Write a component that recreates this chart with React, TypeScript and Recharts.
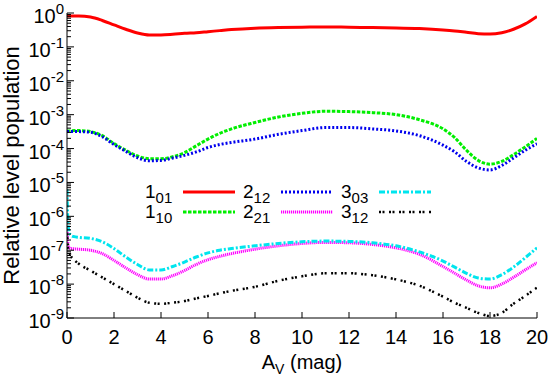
import React from 'react';
import { LineChart, Line, XAxis, YAxis, Legend } from 'recharts';

// A_V (mag) sample positions
const AV = [0, 0.05, 0.15, 0.3, 0.5, 1, 1.5, 2, 2.5, 3, 3.5, 4, 4.5, 5, 5.5, 6, 6.5, 7, 8, 9, 10, 11, 12, 13, 14, 15, 16, 16.5, 17, 17.5, 18, 18.5, 19, 19.5, 20];

// log10 of relative level population
const LOG_1_01 = [-0.09, -0.09, -0.09, -0.09, -0.09, -0.12, -0.22, -0.35, -0.48, -0.59, -0.65, -0.65, -0.63, -0.6, -0.58, -0.55, -0.52, -0.49, -0.45, -0.43, -0.42, -0.41, -0.42, -0.43, -0.44, -0.46, -0.5, -0.53, -0.57, -0.61, -0.62, -0.58, -0.48, -0.32, -0.1];
const LOG_1_10 = [-3.48, -3.48, -3.48, -3.47, -3.47, -3.5, -3.62, -3.85, -4.05, -4.22, -4.3, -4.3, -4.24, -4.12, -3.92, -3.72, -3.55, -3.42, -3.23, -3.07, -2.96, -2.9, -2.91, -2.94, -3.0, -3.15, -3.42, -3.68, -4.05, -4.35, -4.46, -4.38, -4.18, -3.95, -3.7];
const LOG_2_12 = [-3.5, -3.5, -3.5, -3.5, -3.5, -3.52, -3.65, -3.88, -4.08, -4.27, -4.36, -4.35, -4.28, -4.2, -4.1, -3.97, -3.88, -3.82, -3.72, -3.58, -3.47, -3.38, -3.38, -3.42, -3.48, -3.62, -3.9, -4.1, -4.38, -4.57, -4.63, -4.5, -4.28, -4.05, -3.86];
const LOG_2_21 = [-6.4, -6.85, -6.95, -6.96, -6.97, -7.0, -7.1, -7.3, -7.52, -7.72, -7.85, -7.85, -7.75, -7.6, -7.42, -7.28, -7.18, -7.1, -6.97, -6.87, -6.8, -6.77, -6.78, -6.83, -6.93, -7.12, -7.48, -7.68, -7.88, -8.05, -8.11, -8.0, -7.8, -7.58, -7.37];
const LOG_3_03 = [-5.2, -6.3, -6.55, -6.6, -6.62, -6.65, -6.75, -6.95, -7.2, -7.42, -7.58, -7.58, -7.48, -7.35, -7.2, -7.08, -7.0, -6.95, -6.87, -6.8, -6.75, -6.73, -6.74, -6.78, -6.87, -7.05, -7.32, -7.5, -7.68, -7.82, -7.85, -7.72, -7.5, -7.22, -6.93];
const LOG_3_12 = [-6.5, -6.95, -7.15, -7.28, -7.4, -7.6, -7.8, -8.0, -8.2, -8.4, -8.55, -8.58, -8.55, -8.5, -8.42, -8.35, -8.27, -8.2, -8.08, -7.9, -7.77, -7.68, -7.68, -7.74, -7.86, -8.05, -8.37, -8.55, -8.7, -8.85, -8.94, -8.85, -8.58, -8.35, -8.1];

const X_TICKS = [0, 2, 4, 6, 8, 10, 12, 14, 16, 18, 20];
const Y_DECADES = [-9, -8, -7, -6, -5, -4, -3, -2, -1, 0];

const FONT = 'Liberation Sans, Arial, Helvetica, sans-serif';

type S = { key: string; main: string; sub: string; color: string; dash?: string; width: number; data: number[] };
const SERIES: S[] = [
  { key: 's101', main: '1', sub: '01', color: '#ff0000', width: 3, data: LOG_1_01 },
  { key: 's110', main: '1', sub: '10', color: '#00ee00', dash: '3.5 1.5', width: 3, data: LOG_1_10 },
  { key: 's212', main: '2', sub: '12', color: '#0000ee', dash: '2 2', width: 3, data: LOG_2_12 },
  { key: 's221', main: '2', sub: '21', color: '#ff00ff', dash: '1.2 0.8', width: 3, data: LOG_2_21 },
  { key: 's303', main: '3', sub: '03', color: '#00e5ee', dash: '6 2 2 2', width: 3, data: LOG_3_03 },
  { key: 's312', main: '3', sub: '12', color: '#000000', dash: '2 1.5 2 4.5', width: 2.5, data: LOG_3_12 },
];

const rows = AV.map((av, i) => {
  const r: any = { av };
  SERIES.forEach((s) => { r[s.key] = Math.pow(10, s.data[i]); });
  return r;
});

const Y_TICKS: number[] = [];
for (const d of Y_DECADES) {
  if (d === 0) { Y_TICKS.push(1); continue; }
  for (let m = 1; m <= 9; m++) Y_TICKS.push(m * Math.pow(10, d));
}
const isMajor = (v: number) => Math.abs(Math.log10(v) - Math.round(Math.log10(v))) < 1e-6;

const BottomTick = (p: any) => (
  <g>
    <line x1={p.x} x2={p.x} y1={p.y} y2={p.y - 6} stroke="#000" strokeWidth={1} />
    <text x={p.x} y={p.y + 26} textAnchor="middle" fontFamily={FONT} fontSize={20} fill="#000">{p.payload.value}</text>
  </g>
);
const TopTick = (p: any) => (
  <line x1={p.x} x2={p.x} y1={p.y} y2={p.y + 6} stroke="#000" strokeWidth={1} />
);
const LeftTick = (p: any) => {
  const v = p.payload.value;
  const maj = isMajor(v);
  return (
    <g>
      <line x1={p.x} x2={p.x + (maj ? 7 : 4)} y1={p.y} y2={p.y} stroke="#000" strokeWidth={1} />
      {maj && (
        <text x={p.x - 3} y={p.y + 10} textAnchor="end" fontFamily={FONT} fontSize={20} fill="#000">
          10<tspan dy={-9} fontSize={15}>{Math.round(Math.log10(v))}</tspan>
        </text>
      )}
    </g>
  );
};
const RightTick = (p: any) => {
  const maj = isMajor(p.payload.value);
  return <line x1={p.x} x2={p.x - (maj ? 7 : 4)} y1={p.y} y2={p.y} stroke="#000" strokeWidth={1} />;
};

const XLabel = (p: any) => {
  const vb = p.viewBox;
  return (
    <text x={vb.x + vb.width / 2} y={vb.y + 51} textAnchor="middle" fontFamily={FONT} fontSize={20} fill="#000">
      A<tspan dy={5} fontSize={14}>V</tspan><tspan dy={-5}> (mag)</tspan>
    </text>
  );
};
const YLabel = (p: any) => {
  const vb = p.viewBox;
  const cx = vb.x + 19;
  const cy = vb.y + vb.height / 2;
  return (
    <text x={cx} y={cy} transform={`rotate(-90 ${cx} ${cy})`} textAnchor="middle" fontFamily={FONT} fontSize={22} fill="#000">
      Relative level population
    </text>
  );
};

const COLS_X = [145, 243, 341];
const ROWS_Y = [192, 212];
const LegendBox = () => (
  <svg width={550} height={378} style={{ position: 'absolute', left: 0, top: 0 }}>
    {SERIES.map((s, i) => {
      const col = Math.floor(i / 2);
      const row = i % 2;
      const x = COLS_X[col];
      const y = ROWS_Y[row];
      return (
        <g key={s.key}>
          <text x={x} y={y + 6} fontFamily={FONT} fontSize={19} fill="#000">
            {s.main}<tspan dy={5} fontSize={15}>{s.sub}</tspan>
          </text>
          <line x1={x + 38} x2={x + 90} y1={y} y2={y} stroke={s.color} strokeWidth={s.width} strokeDasharray={s.dash} />
        </g>
      );
    })}
  </svg>
);

export default function App() {
  return (
    <div style={{ position: 'absolute', left: 0, top: 0, width: 550, height: 378, background: '#fff' }}>
      <LineChart width={550} height={378} data={rows} margin={{ top: 13, right: 13, left: 0, bottom: 0 }}>
        <XAxis xAxisId="b" dataKey="av" type="number" domain={[0, 20]} ticks={X_TICKS} interval={0}
          tickSize={0} tickMargin={0} tick={BottomTick} height={60} allowDataOverflow
          axisLine={{ stroke: '#000', strokeWidth: 1 }} label={{ content: XLabel } as any} />
        <XAxis xAxisId="t" dataKey="av" orientation="top" type="number" domain={[0, 20]} ticks={X_TICKS} interval={0}
          tickSize={0} tickMargin={0} tick={TopTick} height={0} allowDataOverflow
          axisLine={{ stroke: '#000', strokeWidth: 1 }} />
        <YAxis yAxisId="l" type="number" scale="log" domain={[1e-9, 1]} ticks={Y_TICKS} interval={0}
          tickSize={0} tickMargin={0} tick={LeftTick} width={67} allowDataOverflow
          axisLine={{ stroke: '#000', strokeWidth: 1 }} label={{ content: YLabel } as any} />
        <YAxis yAxisId="r" orientation="right" type="number" scale="log" domain={[1e-9, 1]} ticks={Y_TICKS} interval={0}
          tickSize={0} tickMargin={0} tick={RightTick} width={0} allowDataOverflow
          axisLine={{ stroke: '#000', strokeWidth: 1 }} />
        {SERIES.map((s) => (
          <Line key={s.key} xAxisId="b" yAxisId="l" dataKey={s.key} type="monotone" stroke={s.color}
            strokeWidth={s.width} strokeDasharray={s.dash} dot={false} activeDot={false} isAnimationActive={false} />
        ))}
        <Legend layout="vertical" align="center" verticalAlign="middle" content={LegendBox as any}
          wrapperStyle={{ left: 0, top: 0, width: 550, height: 378, pointerEvents: 'none' }} />
      </LineChart>
    </div>
  );
}
